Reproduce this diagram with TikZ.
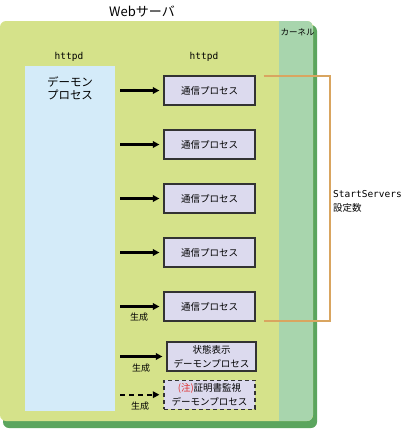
\documentclass[tikz,border=0pt]{standalone}
\usepackage{fontspec}
\setmainfont{Noto Sans CJK JP}
\setmonofont{DejaVu Sans Mono}
\usetikzlibrary{arrows.meta,calc}
\definecolor{srvgreen}{HTML}{D5E28A}
\definecolor{kerngreen}{HTML}{A8D5AD}
\definecolor{shadowgreen}{HTML}{5BA55E}
\definecolor{daemonblue}{HTML}{D4EBF9}
\definecolor{procfill}{HTML}{DCDAEE}
\definecolor{bracketorange}{HTML}{D9A560}
\definecolor{notered}{HTML}{E03030}
\tikzset{
  jp/.style={font=\fontsize{9.5}{14}\selectfont},
  procbox/.style={draw=black!80,line width=1.2pt,fill=procfill,minimum width=91pt,minimum height=29pt,inner sep=0pt,jp,align=center},
  genarrow/.style={line width=2.2pt,-{Triangle[length=6.5pt,width=6.5pt]},shorten <=5pt,shorten >=4pt},
  genlabel/.style={font=\fontsize{9}{10}\selectfont,inner sep=0pt},
  monolabel/.style={font=\fontsize{9.5}{12}\ttfamily,inner sep=0pt}
}
\begin{document}
\begin{tikzpicture}[x=1pt,y=-1pt]
\useasboundingbox (0,0) rectangle (410,429);
% server box with shadow
\fill[shadowgreen,rounded corners=6pt] (3,25) rectangle (317,428);
\fill[srvgreen,rounded corners=6pt] (0,21) rectangle (313,421);
\begin{scope}
  \clip[rounded corners=6pt] (0,21) rectangle (313,421);
  \fill[kerngreen] (279,21) rectangle (313,421);
\end{scope}
\node[font=\fontsize{13}{15}\selectfont,inner sep=0pt] (title) at (142,11) {Webサーバ};
\node[font=\fontsize{8.5}{10}\selectfont,inner sep=0pt] (kernel) at (297.5,32) {カーネル};
\node[monolabel] (h1) at (69,57) {httpd};
\node[monolabel] (h2) at (204,57) {httpd};
% daemon
\node[fill=daemonblue,minimum width=90pt,minimum height=345pt,inner sep=0pt,anchor=north west] (daemon) at (25,66) {};
\node[font=\fontsize{11.5}{13.5}\selectfont,align=center,inner sep=0pt] (dtext) at (70,88.5) {デーモン\\プロセス};
% process boxes
\node[procbox] (p1) at (209.5,90.5) {通信プロセス};
\node[procbox] (p2) at (209.5,144.5) {通信プロセス};
\node[procbox] (p3) at (209.5,198.5) {通信プロセス};
\node[procbox] (p4) at (209.5,252.5) {通信プロセス};
\node[procbox] (p5) at (209.5,306.5) {通信プロセス};
\node[procbox,minimum width=89pt] (stat) at (211.5,356.5) {状態表示\\デーモンプロセス};
\node[procbox,dashed,dash pattern=on 4pt off 3pt] (cert) at (209.5,394.7) {{\color{notered}(注)}証明書監視\\デーモンプロセス};
% arrows
\foreach \p in {p1,p2,p3,p4,p5,stat}{
  \draw[genarrow] (\p.west -| daemon.east) -- (\p.west);
}
\draw[genarrow,dash pattern=on 5pt off 4pt] (cert.west -| daemon.east) -- (cert.west);
\node[genlabel] (g1) at (139,317) {生成};
\node[genlabel] (g2) at (141,368) {生成};
\node[genlabel] (g3) at (140,406) {生成};
% bracket
\coordinate (b1) at ($(p1.east)+(8,-14.5)$);
\coordinate (b5) at ($(p5.east)+(8,14.5)$);
\coordinate (bc) at ($(b1)+(66,0)$);
\draw[bracketorange,line width=2pt] (b1) -- (bc) |- (b5);
\node[jp,align=left,anchor=west,inner sep=0pt] (ss) at (333,201) {{\ttfamily StartServers}\\設定数};
\end{tikzpicture}
\end{document}
